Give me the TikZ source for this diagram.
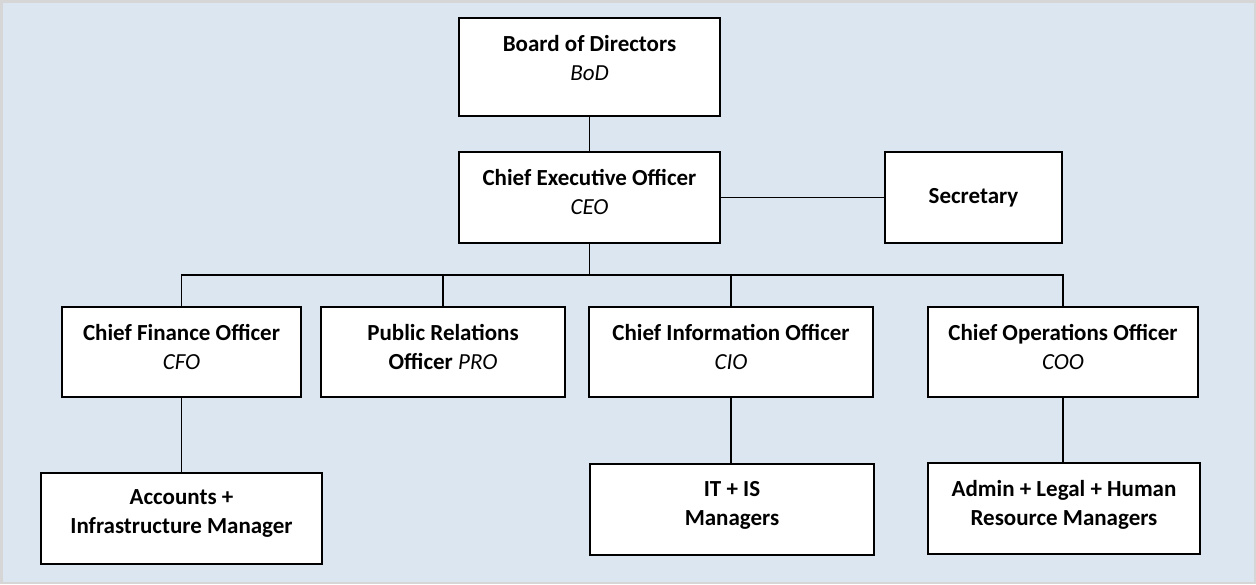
\documentclass[tikz,border=0pt]{standalone}
\usepackage{fontspec}
\setmainfont{Carlito}

\definecolor{panelblue}{HTML}{DCE6F1}
\definecolor{panelgray}{HTML}{D6D6D6}
\newcommand{\abbr}[1]{{\mdseries\itshape #1}}

\begin{document}
\begin{tikzpicture}[x=1pt,y=-1pt,
    box/.style={draw,fill=white,line width=1.5pt,minimum height=91pt,inner sep=0pt},
    boxtext/.style={anchor=north,yshift=-17.5pt,align=center,inner sep=0pt,
        font=\bfseries\fontsize{23}{29}\selectfont},
    link/.style={line width=1.2pt}]

    % Panel
    \useasboundingbox (0,0) rectangle (1256,584);
    \draw[panelgray,fill=panelblue,line width=2.5pt] (1.25,1.25) rectangle (1254.75,582.75);

    % Nodes
    \node[box,minimum width=261pt,minimum height=98pt,
        label={[boxtext]north:{Board of Directors\\\abbr{BoD}}}] (bod) at (589.5,67) {};
    \node[box,minimum width=261pt,
        label={[boxtext]north:{Chief Executive Officer\\\abbr{CEO}}}] (ceo) at (589.5,197.5) {};
    \node[box,minimum width=177pt,font=\bfseries\fontsize{23}{29}\selectfont] (sec) at (973.5,197.5) {Secretary};

    \node[box,minimum width=239pt,minimum height=90pt,
        label={[boxtext]north:{Chief Finance Officer\\\abbr{CFO}}}] (cfo) at (181.5,352) {};
    \node[box,minimum width=244pt,minimum height=90pt,
        label={[boxtext]north:{Public Relations\\Officer \abbr{PRO}}}] (pro) at (443,352) {};
    \node[box,minimum width=284pt,minimum height=90pt,
        label={[boxtext]north:{Chief Information Officer\\\abbr{CIO}}}] (cio) at (731,352) {};
    \node[box,minimum width=270pt,minimum height=90pt,
        label={[boxtext]north:{Chief Operations Officer\\\abbr{COO}}}] (coo) at (1063,352) {};

    \node[box,minimum width=281pt,
        label={[boxtext]north:{Accounts +\\Infrastructure Manager}}] (acc) at (181.5,518.5) {};
    \node[box,minimum width=284pt,
        label={[boxtext]north:{IT + IS\\Managers}}] (it) at (732,509.5) {};
    \node[box,minimum width=272pt,
        label={[boxtext]north:{Admin + Legal + Human\\Resource Managers}}] (adm) at (1064,508.5) {};

    % Edges
    \coordinate (bus) at (589.5,275);
    \draw[link] (bod) -- (ceo);
    \draw[link] (ceo) -- (sec);
    \draw[link] (ceo.south) -- (bus);
    \draw[link] (cfo.north) |- (bus) -| (coo.north);
    \draw[link] (pro.north) -- (pro.north |- bus);
    \draw[link] (cio.north) -- (cio.north |- bus);
    \draw[link] (cfo) -- (acc);
    \draw[link] (cio.south) -- (cio.south |- it.north);
    \draw[link] (coo.south) -- (coo.south |- adm.north);

\end{tikzpicture}
\end{document}
